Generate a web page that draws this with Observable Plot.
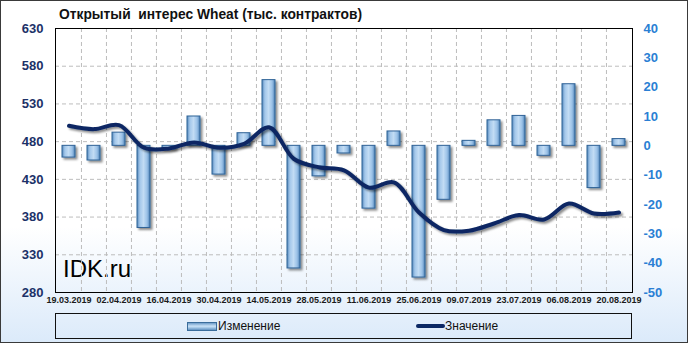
<!DOCTYPE html>
<html>
<head>
<meta charset="utf-8">
<script src="https://cdn.jsdelivr.net/npm/d3@7"></script>
<script src="https://cdn.jsdelivr.net/npm/@observablehq/plot@0.6"></script>
<style>
  html, body { margin: 0; padding: 0; background: #fff; }
  #chart { position: relative; width: 688px; height: 343px; overflow: hidden;
    background: linear-gradient(180deg, #ffffff 0%, #ffffff 66%, #dbeafa 100%);
    font-family: "Liberation Sans", Arial, sans-serif; }
  #chart svg.plot { position: absolute; left: 0; top: 0; background: transparent; }
  #border { position: absolute; left: 0; top: 0; width: 688px; height: 343px; box-sizing: border-box;
    border: 1px solid #3a3a3a; pointer-events: none; }
  #title { position: absolute; left: 59px; top: 8px; font-weight: bold; font-size: 13.8px; line-height: 14px;
    color: #111; white-space: pre; }
  #wm { position: absolute; left: 63px; top: 257px; font-size: 24px; line-height: 24px; color: #000; }
  #legend { position: absolute; left: 55px; top: 313px; width: 577px; height: 26px; box-sizing: border-box;
    border: 1px solid #111; font-size: 12px; color: #111; }
  #legend .sw-bar { position: absolute; left: 131px; top: 8px; width: 28px; height: 7px;
    border: 1px solid #3a6d9c;
    background: linear-gradient(180deg, #6d9cc9 0%, #c9e1f6 45%, #b2d2ee 60%, #5f90c0 100%); }
  #legend .sw-line { position: absolute; left: 360px; top: 10px; width: 29px; height: 4px; border-radius: 2px;
    background: #0b2864; }
  #legend .lbl { position: absolute; top: 5px; line-height: 14px; }
</style>
</head>
<body>
<div id="chart">
  <div id="wm">IDK.ru</div>
  <div id="title">Открытый  интерес Wheat (тыс. контрактов)</div>
  <div id="legend">
    <div class="sw-bar"></div><div class="lbl" style="left:162px">Изменение</div>
    <div class="sw-line"></div><div class="lbl" style="left:389px">Значение</div>
  </div>
  <div id="border"></div>
</div>
<script>
// ---- data ----
const dates = ["19.03.2019","26.03.2019","02.04.2019","09.04.2019","16.04.2019","23.04.2019","30.04.2019",
  "07.05.2019","14.05.2019","21.05.2019","28.05.2019","04.06.2019","11.06.2019","18.06.2019","25.06.2019",
  "02.07.2019","09.07.2019","16.07.2019","23.07.2019","30.07.2019","06.08.2019","13.08.2019","20.08.2019"];
// Изменение (right axis, тыс. контрактов)
const change = [-4, -5, 4.5, -28, -1.2, 10, -9.8, 4.3, 22.4, -41.8, -10.4, -2.6, -21.4, 4.9, -44.9,
  -18.4, 1.7, 8.7, 10.2, -3.4, 21, -14.4, 2.3];
// Значение (left axis)
const value = [501, 496.6, 502, 472, 471, 479, 472, 477, 499, 457, 446, 442, 419, 426, 386,
  362.7, 362, 371.5, 382.6, 376.8, 398, 384.7, 386];
const leftTicks = [280, 330, 380, 430, 480, 530, 580, 630];
const rightTicks = [-50, -40, -30, -20, -10, 0, 10, 20, 30, 40];
const xTickLabels = dates.filter((d, i) => i % 2 === 0);

const rows = dates.map((d, i) => ({date: d, change: change[i], value: value[i]}));

// right axis mapped onto the left scale
const r2l = d3.scaleLinear([-50, 40], [280, 630]);

const W = 688, H = 313, ML = 55, MR = 56, MT = 28, MB = 21;
const bw = (W - ML - MR) / dates.length;

const defs = () => {
  const g = document.createElementNS("http://www.w3.org/2000/svg", "defs");
  g.innerHTML = `
    <linearGradient id="barGrad" x1="0" x2="1" y1="0" y2="0">
      <stop offset="0%" stop-color="#5689bd"/>
      <stop offset="22%" stop-color="#a3c7ea"/>
      <stop offset="50%" stop-color="#c2dcf4"/>
      <stop offset="78%" stop-color="#9ac1e7"/>
      <stop offset="100%" stop-color="#4f82b6"/>
    </linearGradient>
    <filter id="shadow" x="-20%" y="-20%" width="150%" height="150%">
      <feDropShadow dx="2" dy="2" stdDeviation="1.3" flood-color="#000" flood-opacity="0.45"/>
    </filter>`;
  return g;
};

const plot = Plot.plot({
  width: W, height: H,
  marginLeft: ML, marginRight: MR, marginTop: MT, marginBottom: MB,
  style: {fontFamily: "'Liberation Sans', Arial, sans-serif", background: "transparent", overflow: "visible"},
  x: {type: "band", domain: dates, padding: 0},
  y: {domain: [280, 630]},
  marks: [
    defs,
    Plot.gridY(leftTicks.slice(1, -1), {stroke: "#bdbdbd", strokeOpacity: 1, strokeDasharray: "4,3"}),
    Plot.ruleX(dates.slice(1), {dx: -bw / 2, stroke: "#bdbdbd", strokeOpacity: 1, strokeDasharray: "4,3"}),
    Plot.barY(rows, {x: "date", y1: () => r2l(0), y2: d => r2l(d.change),
      fill: "url(#barGrad)", stroke: "#2f6296", strokeWidth: 1, insetLeft: 6, insetRight: 6}),
    Plot.line(rows, {x: "date", y: "value", curve: "catmull-rom", stroke: "#0b2864", strokeWidth: 4}),
    Plot.frame({stroke: "#000", strokeWidth: 1}),
    Plot.axisY({anchor: "left", ticks: leftTicks, tickSize: 0, tickPadding: 12, label: null,
      fontSize: 13, fontWeight: "bold", fill: "#1c3168", tickFormat: d => String(d)}),
    Plot.axisY({anchor: "right", ticks: rightTicks.map(r2l), tickSize: 0, tickPadding: 11, label: null,
      fontSize: 13, fontWeight: "bold", fill: "#2a7fd4", tickFormat: d => String(Math.round(r2l.invert(d)))}),
    Plot.axisX({ticks: xTickLabels, tickSize: 0, tickPadding: 4, label: null,
      fontSize: 9, fontWeight: "bold", fill: "#1a1a1a"})
  ]
});
plot.classList.add("plot");
plot.querySelectorAll('g[aria-label="bar"], g[aria-label="line"]').forEach(g => g.setAttribute("filter", "url(#shadow)"));
document.getElementById("chart").insertBefore(plot, document.getElementById("title"));
</script>
</body>
</html>
